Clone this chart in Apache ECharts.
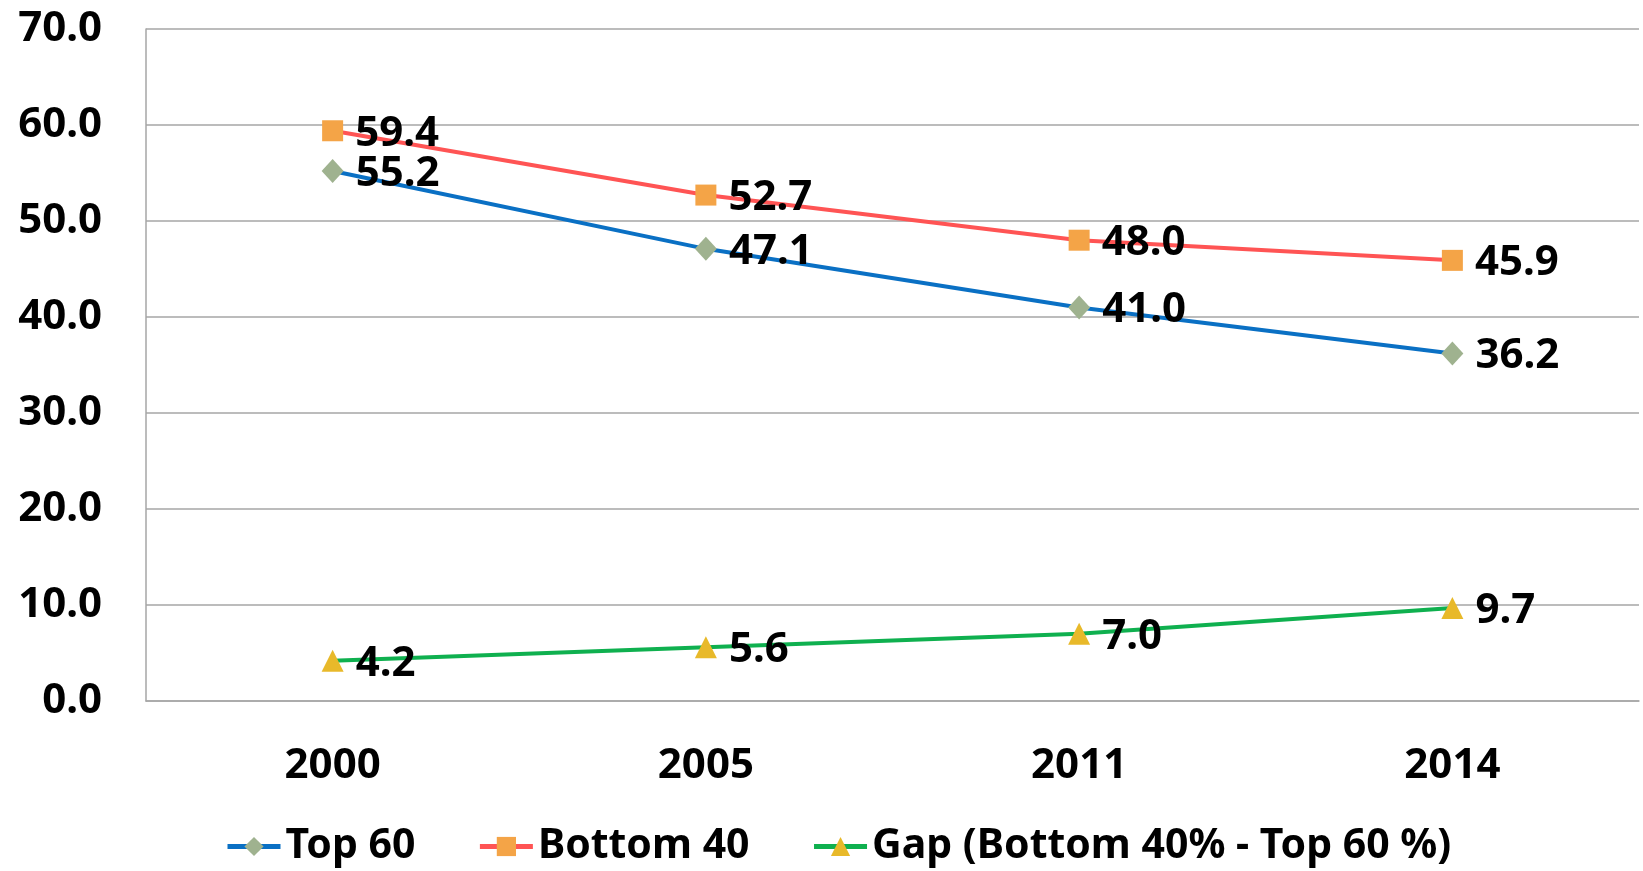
<!DOCTYPE html>
<html>
<head>
<meta charset="utf-8">
<script src="https://cdn.jsdelivr.net/npm/echarts@6/dist/echarts.min.js"></script>
<style>
  html, body { margin: 0; padding: 0; background: #fff; }
  #chart { width: 1643px; height: 871px; }
</style>
</head>
<body>
<div id="chart"></div>
<script>
// Survey years on the category axis
const years = ['2000', '2005', '2011', '2014'];

// Series values (percent)
const top60 = [55.2, 47.1, 41.0, 36.2];
const bottom40 = [59.4, 52.7, 48.0, 45.9];
const gap = [4.2, 5.6, 7.0, 9.7];

// Series names shown in the legend
const seriesNames = ['Top 60', 'Bottom 40', 'Gap (Bottom 40% - Top 60 %)'];

const FONT = '"Noto Sans", "DejaVu Sans", sans-serif';
const FS = 42;

const labelStyle = {
  show: true,
  position: 'right',
  distance: 12,
  offset: [0, 3],
  color: '#000',
  fontFamily: FONT,
  fontWeight: 'bold',
  fontSize: FS,
  formatter: p => p.value.toFixed(1)
};

function makeSeries(name, data, lineColor, markerColor, symbol, size) {
  return {
    name: name,
    type: 'line',
    data: data,
    symbol: symbol,
    symbolSize: size,
    showSymbol: true,
    lineStyle: { color: lineColor, width: 4 },
    itemStyle: { color: markerColor },
    label: labelStyle,
    z: 3
  };
}

const chart = echarts.init(document.getElementById('chart'), null, { renderer: 'canvas' });

chart.setOption({
  animation: false,
  backgroundColor: '#fff',
  grid: { left: 146, right: 4, top: 29, bottom: 170, containLabel: false },
  legend: {
    left: 220,
    top: 821,
    itemWidth: 53,
    itemHeight: 24,
    itemGap: 62,
    lineStyle: { width: 5 },
    textStyle: { color: '#000', fontFamily: FONT, fontWeight: 'bold', fontSize: 41 },
    data: seriesNames
  },
  xAxis: {
    type: 'category',
    data: years,
    boundaryGap: true,
    axisLine: { lineStyle: { color: '#a6a6a6', width: 1.5 } },
    axisTick: { show: false },
    axisLabel: { color: '#000', fontFamily: FONT, fontWeight: 'bold', fontSize: FS, margin: 44 }
  },
  yAxis: {
    type: 'value',
    min: 0,
    max: 70,
    interval: 10,
    axisLine: { show: true, lineStyle: { color: '#a6a6a6', width: 1.5 } },
    axisTick: { show: false },
    splitLine: { lineStyle: { color: '#a6a6a6', width: 1.5 } },
    axisLabel: {
      color: '#000', fontFamily: FONT, fontWeight: 'bold', fontSize: FS, margin: 44,
      formatter: v => v.toFixed(1)
    }
  },
  series: [
    makeSeries(seriesNames[0], top60, '#0a70c4', '#9fb28f', 'diamond', [22, 24]),
    makeSeries(seriesNames[1], bottom40, '#ff5454', '#f4a447', 'rect', 21),
    makeSeries(seriesNames[2], gap, '#0fb04f', '#e8b92a', 'triangle', 22)
  ]
});
</script>
</body>
</html>
